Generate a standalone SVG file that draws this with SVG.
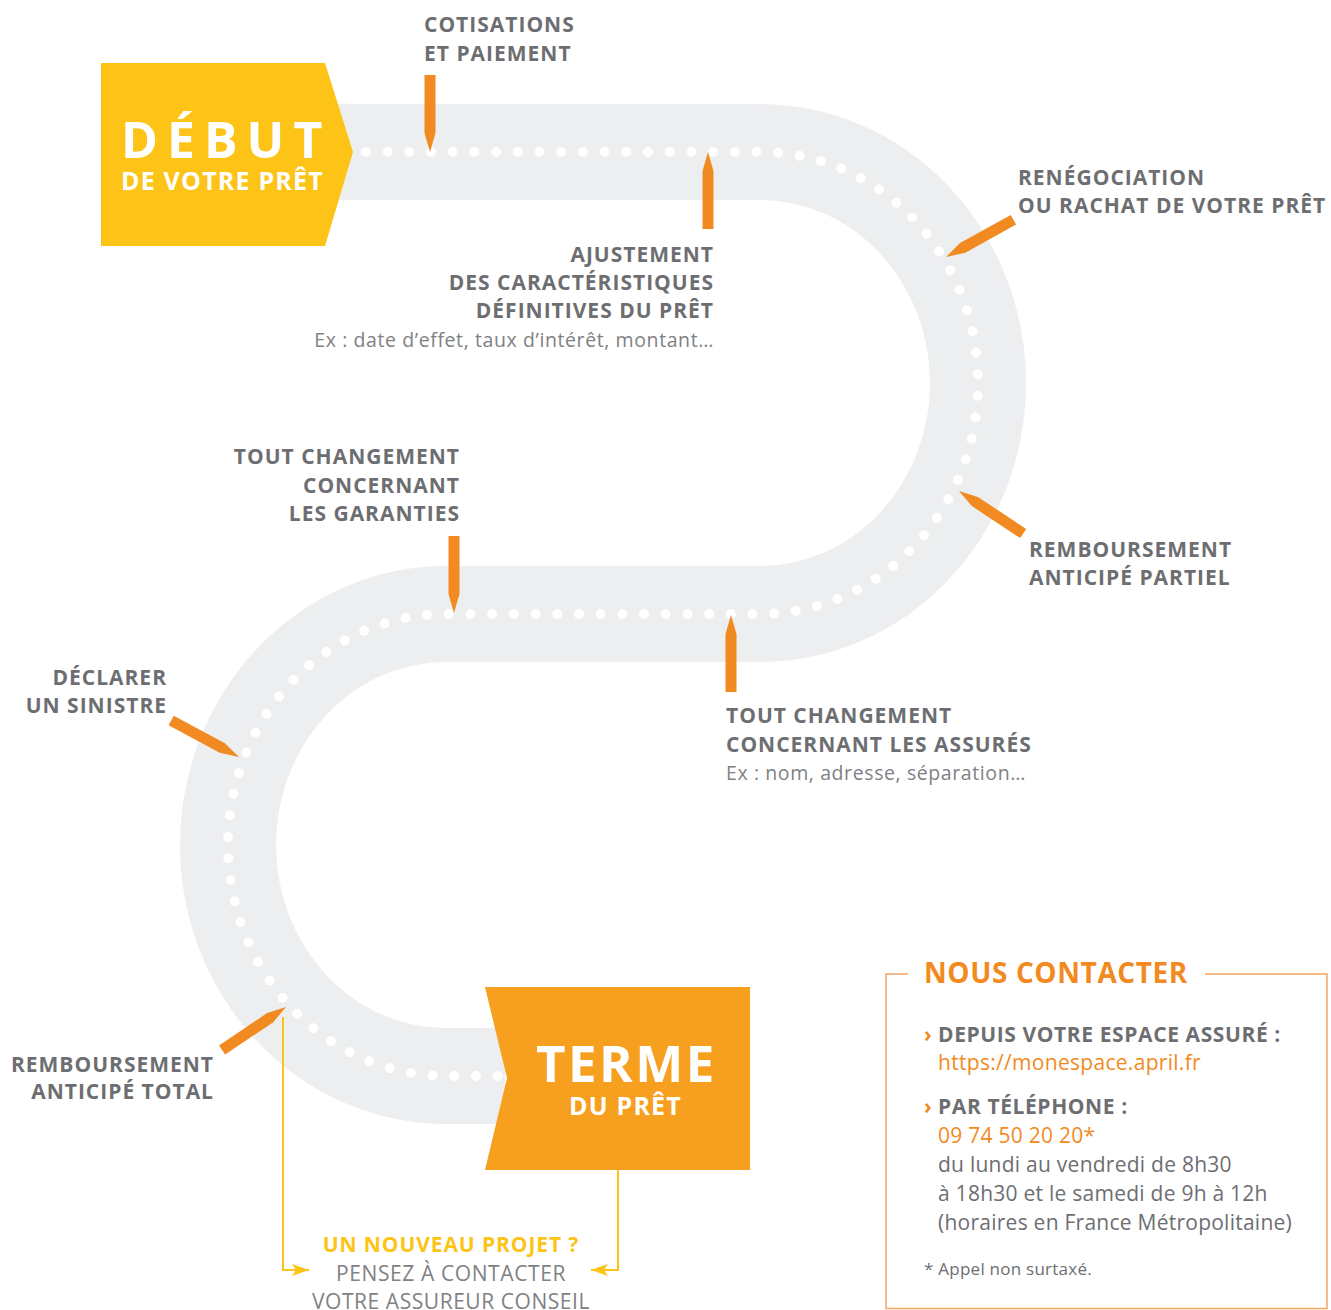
<svg xmlns="http://www.w3.org/2000/svg" width="1331" height="1310" viewBox="0 0 1331 1310">
<style>
.road{fill:none;stroke:#EDEEF0;stroke-width:96}
.dots{fill:none;stroke:#FFFFFF;stroke-width:10;stroke-linecap:round;stroke-dasharray:0 21.7}
.pin{fill:#F28A22}
.lb{font-family:"Open Sans","Noto Sans",sans-serif;font-weight:700;font-size:21px;letter-spacing:1px;fill:#6D6E71}
.ex{font-family:"Open Sans","Noto Sans",sans-serif;font-weight:400;font-size:19.5px;letter-spacing:0.6px;fill:#808184}
.big{font-family:"Open Sans","Noto Sans",sans-serif;font-weight:700;fill:#FFFFFF}
.r{text-anchor:end}
.c{text-anchor:middle}
.yl{fill:none;stroke:#FDC316;stroke-width:2}
.ct{font-family:"Open Sans","Noto Sans",sans-serif;font-size:21px;letter-spacing:0.25px}
.cb{font-weight:700;letter-spacing:0.6px}
</style>
<defs>
<path id="pinshape" d="M0,0 L19,-5.5 L77,-5.5 L77,5.5 L19,5.5 Z"/>
<marker id="arr" markerUnits="userSpaceOnUse" markerWidth="20" markerHeight="14" refX="17" refY="7" orient="auto">
<path d="M0,1 L17,7 L0,13 L4,7 Z" fill="#FDC316"/>
</marker>
</defs>

<g id="road">
<path class="road" d="M 330 152 H 760 A 218 231 0 0 1 760 614 H 446 A 218 231 0 0 0 446 1076 H 505"/>
<path class="dots" d="M 344.2 152 H 760 A 218 231 0 0 1 760 614 H 446 A 218 231 0 0 0 446 1076 H 500"/>
</g>

<g id="connectors">
<path class="yl" d="M 283 1017 V 1270 H 309" marker-end="url(#arr)"/>
<path class="yl" d="M 618 1170 V 1270 H 591" marker-end="url(#arr)"/>
</g>

<g id="debut">
<polygon points="101,63 325,63 353,152 325,246 101,246" fill="#FDC316"/>
<text class="big" x="121" y="158" font-size="50" letter-spacing="9">DÉBUT</text>
<text class="big" x="121" y="190" font-size="25" letter-spacing="1.2">DE VOTRE PRÊT</text>
</g>

<g id="terme">
<polygon points="485,987 750,987 750,1170 485,1170 507,1078" fill="#F7A01F"/>
<text class="big" x="536" y="1082" font-size="51" letter-spacing="2.5">TERME</text>
<text class="big" x="569" y="1115" font-size="25" letter-spacing="1.2">DU PRÊT</text>
</g>

<g id="cotisations">
<use href="#pinshape" class="pin" transform="translate(430,152) rotate(-90)"/>
<text class="lb" x="424" y="32">COTISATIONS</text>
<text class="lb" x="424" y="61">ET PAIEMENT</text>
</g>

<g id="ajustement">
<use href="#pinshape" class="pin" transform="translate(708,152) rotate(90)"/>
<text class="lb r" x="714" y="262">AJUSTEMENT</text>
<text class="lb r" x="714" y="290">DES CARACTÉRISTIQUES</text>
<text class="lb r" x="714" y="318">DÉFINITIVES DU PRÊT</text>
<text class="ex r" x="714" y="347">Ex : date d’effet, taux d’intérêt, montant…</text>
</g>

<g id="renegociation">
<use href="#pinshape" class="pin" transform="translate(946,257) rotate(-28.9)"/>
<text class="lb" x="1018" y="185">RENÉGOCIATION</text>
<text class="lb" x="1018" y="213">OU RACHAT DE VOTRE PRÊT</text>
</g>

<g id="partiel">
<use href="#pinshape" class="pin" transform="translate(959,491) rotate(33.5)"/>
<text class="lb" x="1029" y="557">REMBOURSEMENT</text>
<text class="lb" x="1029" y="585">ANTICIPÉ PARTIEL</text>
</g>

<g id="assures">
<use href="#pinshape" class="pin" transform="translate(731,615) rotate(90)"/>
<text class="lb" x="726" y="723">TOUT CHANGEMENT</text>
<text class="lb" x="726" y="752">CONCERNANT LES ASSURÉS</text>
<text class="ex" x="726" y="780">Ex : nom, adresse, séparation…</text>
</g>

<g id="garanties">
<use href="#pinshape" class="pin" transform="translate(454,613) rotate(-90)"/>
<text class="lb r" x="460" y="464">TOUT CHANGEMENT</text>
<text class="lb r" x="460" y="493">CONCERNANT</text>
<text class="lb r" x="460" y="521">LES GARANTIES</text>
</g>

<g id="sinistre">
<use href="#pinshape" class="pin" transform="translate(239,757) rotate(208.3)"/>
<text class="lb r" x="167" y="685">DÉCLARER</text>
<text class="lb r" x="167" y="713">UN SINISTRE</text>
</g>

<g id="total">
<use href="#pinshape" class="pin" transform="translate(286,1007) rotate(146.1)"/>
<text class="lb r" x="214" y="1072">REMBOURSEMENT</text>
<text class="lb r" x="214" y="1099">ANTICIPÉ TOTAL</text>
</g>

<g id="nouveau-projet">
<text class="lb c" x="451" y="1252" style="fill:#FDC316;letter-spacing:0.9px">UN NOUVEAU PROJET ?</text>
<text class="ex c" x="451" y="1281" style="font-size:21px;letter-spacing:0.6px">PENSEZ À CONTACTER</text>
<text class="ex c" x="451" y="1309" style="font-size:21px;letter-spacing:0.55px">VOTRE ASSUREUR CONSEIL</text>
</g>

<g id="contact">
<path d="M 908 974 H 886 V 1308.5 H 1327 V 974 H 1205" fill="none" stroke="#F5A562" stroke-width="1.5"/>
<text x="924" y="983" style="font-family:'Open Sans','Noto Sans',sans-serif;font-weight:700;font-size:28px;letter-spacing:0.6px;fill:#F28A22">NOUS CONTACTER</text>
<text class="ct cb" x="924" y="1042"><tspan fill="#F28A22">›</tspan><tspan x="938" fill="#6D6E71">DEPUIS VOTRE ESPACE ASSURÉ :</tspan></text>
<text class="ct" x="938" y="1070" fill="#F28A22" style="letter-spacing:0.3px">https://monespace.april.fr</text>
<text class="ct cb" x="924" y="1114"><tspan fill="#F28A22">›</tspan><tspan x="938" fill="#6D6E71">PAR TÉLÉPHONE :</tspan></text>
<text class="ct" x="938" y="1143" fill="#F28A22">09 74 50 20 20*</text>
<text class="ct" x="938" y="1172" fill="#6D6E71">du lundi au vendredi de 8h30</text>
<text class="ct" x="938" y="1201" fill="#6D6E71">à 18h30 et le samedi de 9h à 12h</text>
<text class="ct" x="938" y="1230" fill="#6D6E71">(horaires en France Métropolitaine)</text>
<text class="ct" x="924" y="1275" fill="#6D6E71" style="font-size:17px">* Appel non surtaxé.</text>
</g>
</svg>
